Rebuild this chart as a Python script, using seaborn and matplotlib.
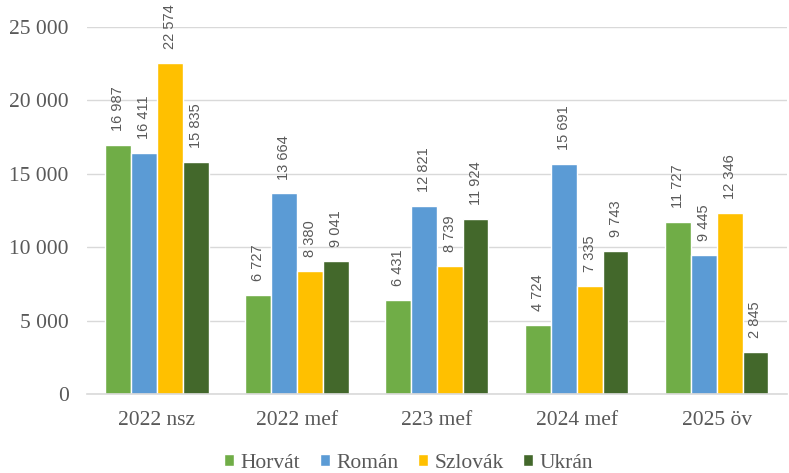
import pandas as pd
import matplotlib.pyplot as plt
import seaborn as sns
from matplotlib.ticker import FuncFormatter

categories = ['2022 nsz', '2022 mef', '223 mef', '2024 mef', '2025 öv']
series = ['Horvát', 'Román', 'Szlovák', 'Ukrán']
horvat = [16987, 6727, 6431, 4724, 11727]
roman = [16411, 13664, 12821, 15691, 9445]
szlovak = [22574, 8380, 8739, 7335, 12346]
ukran = [15835, 9041, 11924, 9743, 2845]
colors = ['#70AD47', '#5B9BD5', '#FFC000', '#43682B']

rows = []
for name, vals in zip(series, [horvat, roman, szlovak, ukran]):
    for cat, v in zip(categories, vals):
        rows.append({'cat': cat, 'series': name, 'value': v})
df = pd.DataFrame(rows)

sns.set_style('white')
plt.rcParams['font.family'] = ['Liberation Serif', 'DejaVu Serif']

fig = plt.figure(figsize=(7.89, 4.73), dpi=100)
ax = fig.add_axes([0.110, 0.167, 0.887, 0.776])

sns.barplot(data=df, x='cat', y='value', hue='series', order=categories,
            hue_order=series, palette=colors, width=0.74, edgecolor='white',
            linewidth=1, saturation=1, ax=ax, errorbar=None)

fmt = lambda v: f'{int(round(v)):,}'.replace(',', ' ')
for cont in ax.containers:
    ax.bar_label(cont, labels=[fmt(b.get_height()) for b in cont], rotation=90,
                 padding=10, color='#595959', fontsize=10.5, family='Liberation Sans',
                 clip_on=False)

ax.set_ylim(0, 25000)
ax.set_yticks(range(0, 25001, 5000))
ax.yaxis.set_major_formatter(FuncFormatter(lambda v, p: fmt(v)))
ax.grid(axis='y', color='#D9D9D9', linewidth=1)
ax.set_axisbelow(True)
for s in ['top', 'right', 'left']:
    ax.spines[s].set_visible(False)
ax.spines['bottom'].set_color('#D9D9D9')
ax.spines['bottom'].set_linewidth(1.2)
ax.tick_params(axis='both', length=0, labelsize=15.5, labelcolor='#595959')
ax.tick_params(axis='y', pad=13)
ax.tick_params(axis='x', pad=12)
ax.set_xlabel(None)
ax.set_ylabel(None)

handles, labels = ax.get_legend_handles_labels()
ax.get_legend().remove()
fig.legend(handles, labels, loc='center', bbox_to_anchor=(0.518, 1 - 463 / 473),
           ncol=4, frameon=False, fontsize=15.5, labelcolor='#595959',
           handlelength=0.47, handleheight=0.47, handletextpad=0.3,
           columnspacing=0.9, borderpad=0)

plt.savefig('out.png', dpi=100)
